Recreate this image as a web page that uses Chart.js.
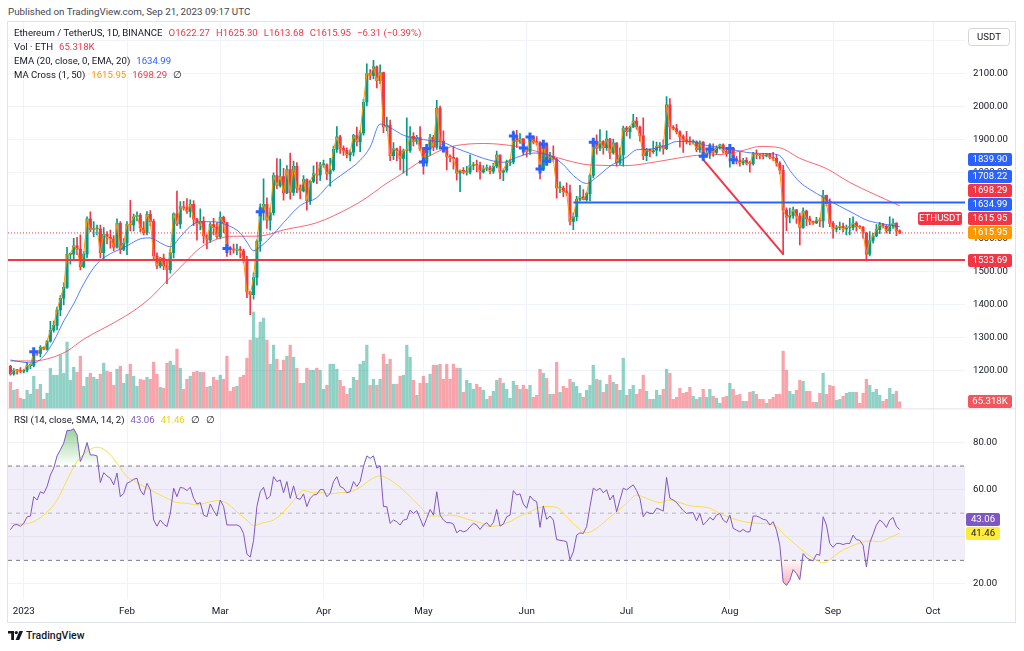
<!DOCTYPE html>
<html><head><meta charset="utf-8">
<script src="https://cdn.jsdelivr.net/npm/chart.js@4.4.0/dist/chart.umd.min.js"></script>
<style>
html,body{margin:0;padding:0;background:#fff;}
#wrap{position:relative;width:1024px;height:651px;overflow:hidden;font-family:Roboto,sans-serif;color:#131722;}
.t{position:absolute;white-space:nowrap;font-size:9.6px;line-height:14px;}
.t span{margin-left:6px;}
#frame{position:absolute;left:7px;top:21px;width:1007px;height:600px;border:1px solid #e0e3eb;}
canvas{position:absolute;left:8px;top:22px;}
</style></head>
<body><div id="wrap">
<div class="t" style="left:8px;top:5px;color:#434651;font-size:9.8px">Published on TradingView.com, Sep 21, 2023 09:17 UTC</div>
<div id="frame"></div>
<canvas id="c" width="1007" height="602"></canvas>
<div class="t" style="left:14px;top:26px">Ethereum / TetherUS, 1D, BINANCE<span style="color:#f23645">O1622.27</span><span style="color:#f23645">H1625.30</span><span style="color:#f23645">L1613.68</span><span style="color:#f23645">C1615.95</span><span style="color:#f23645">−6.31 (−0.39%)</span></div>
<div class="t" style="left:14px;top:40px">Vol · ETH<span style="color:#f23645">65.318K</span></div>
<div class="t" style="left:14px;top:54px">EMA (20, close, 0, EMA, 20)<span style="color:#2962ff">1634.99</span></div>
<div class="t" style="left:14px;top:68px">MA Cross (1, 50)<span style="color:#ff9800">1615.95</span><span style="color:#f23645">1698.29</span><span>∅</span></div>
<div class="t" style="left:14px;top:413px">RSI (14, close, SMA, 14, 2)<span style="color:#7e57c2">43.06</span><span style="color:#e8d21d">41.46</span><span>∅</span><span>∅</span></div>
<div class="t" style="left:8px;top:629px;font-size:10.5px;font-weight:500"><svg width="15" height="9" viewBox="0 0 15 9" style="vertical-align:-1px;margin-right:3px"><path d="M0 0h6v9H3.2V2.6H0z" fill="#131722"/><circle cx="8.3" cy="1.6" r="1.6" fill="#131722"/><path d="M11.4 0H15l-3.8 9H7.6z" fill="#131722"/></svg>TradingView</div>
</div>
<script>
// ---------------- DATA ----------------
const firstDay = -4; // first candle = Dec 28, 2022 (days counted from Jan 1, 2023)
const monthTickDays = [0,31,59,90,120,151,181,212,243,273];
const monthTickLabels = ['2023','Feb','Mar','Apr','May','Jun','Jul','Aug','Sep','Oct'];
const priceTicks = [1200,1300,1400,1500,1600,1700,1800,1900,2000,2100,2200];
const rsiTicks = [20,40,60,80];

const opens = [
1212,1189,1200,1199,1196,1200,1214,1214,1256,1251,
1269,1264,1288,1321,1336,1383,1418,1451,1551,1552,
1577,1567,1514,1552,1659,1627,1628,1628,1556,1612,
1603,1598,1573,1645,1566,1585,1642,1640,1665,1669,
1631,1617,1672,1651,1546,1516,1540,1516,1505,1556,
1674,1643,1695,1692,1681,1703,1658,1643,1651,1607,
1595,1641,1633,1605,1663,1647,1569,1566,1564,1566,
1562,1533,1437,1429,1481,1591,1680,1703,1655,1677,
1790,1760,1787,1737,1808,1739,1818,1751,1743,1778,
1714,1772,1795,1791,1822,1822,1795,1808,1869,1907,
1872,1866,1852,1861,1911,1892,1919,2012,2099,2093,
2119,2077,2102,1937,1942,1850,1871,1865,1842,1865,
1866,1909,1893,1906,1870,1831,1872,1906,1876,1994,
1894,1873,1848,1845,1841,1797,1806,1800,1800,1820,
1823,1821,1801,1810,1813,1803,1818,1852,1800,1806,
1829,1831,1910,1893,1901,1873,1863,1907,1892,1890,
1810,1885,1833,1848,1839,1752,1752,1741,1737,1651,
1665,1718,1725,1717,1735,1790,1891,1873,1893,1874,
1900,1859,1888,1828,1852,1934,1923,1937,1955,1937,
1910,1850,1869,1862,1867,1878,1880,1871,2004,1937,
1932,1922,1908,1898,1893,1891,1892,1868,1891,1848,
1858,1870,1860,1873,1883,1864,1856,1872,1838,1835,
1828,1836,1827,1826,1856,1853,1850,1849,1855,1845,
1842,1827,1806,1685,1664,1669,1686,1667,1633,1682,
1659,1651,1646,1655,1652,1730,1705,1645,1628,1633,
1636,1628,1632,1633,1646,1635,1634,1616,1552,1593,
1607,1626,1641,1636,1622,1638,1645,1622.27];
const highs = [
1215,1205,1202,1208,1203,1223,1218,1265,1258,1275,
1271,1290,1348,1349,1391,1426,1465,1572,1556,1600,
1603,1610,1560,1665,1680,1650,1640,1640,1632,1620,
1625,1608,1659,1650,1599,1650,1715,1673,1680,1675,
1650,1681,1684,1658,1556,1542,1552,1529,1568,1677,
1743,1711,1712,1720,1716,1714,1661,1689,1665,1611,
1647,1660,1647,1680,1667,1647,1575,1582,1582,1575,
1567,1545,1439,1495,1595,1704,1780,1722,1692,1798,
1841,1840,1812,1820,1858,1834,1829,1762,1790,1780,
1775,1819,1831,1830,1837,1825,1842,1879,1938,1912,
1880,1874,1868,1915,1937,1926,2021,2128,2111,2139,
2122,2125,2103,1967,1958,1890,1873,1879,1870,1965,
1938,1920,1912,1938,1872,1880,1915,1912,2018,2000,
1925,1874,1853,1877,1844,1807,1814,1818,1853,1830,
1837,1831,1820,1822,1819,1827,1864,1853,1810,1837,
1838,1925,1927,1917,1902,1876,1909,1910,1908,1893,
1892,1889,1860,1880,1842,1771,1758,1768,1761,1677,
1727,1760,1747,1740,1794,1900,1913,1929,1896,1925,
1903,1900,1890,1874,1940,1939,1940,1975,1966,1940,
1965,1872,1870,1894,1891,1890,1898,2029,2023,1941,
1945,1925,1913,1924,1907,1898,1895,1895,1893,1868,
1887,1886,1880,1885,1886,1872,1875,1874,1848,1860,
1842,1844,1833,1860,1868,1855,1857,1857,1857,1860,
1853,1832,1821,1692,1691,1694,1687,1676,1692,1685,
1667,1652,1663,1662,1745,1731,1719,1651,1639,1649,
1646,1640,1660,1665,1650,1638,1635,1618,1620,1615,
1641,1648,1645,1640,1665,1659,1647,1625.30];
const lows = [
1185,1185,1188,1192,1192,1195,1205,1210,1245,1240,
1262,1261,1285,1315,1322,1365,1398,1448,1521,1534,
1550,1504,1510,1540,1620,1605,1610,1540,1535,1583,
1570,1562,1570,1553,1562,1550,1622,1622,1652,1620,
1610,1610,1637,1535,1508,1510,1505,1462,1494,1540,
1638,1630,1685,1675,1664,1638,1594,1625,1585,1568,
1587,1610,1599,1598,1617,1545,1550,1555,1550,1540,
1525,1420,1368,1415,1458,1560,1655,1630,1624,1670,
1750,1755,1715,1735,1718,1730,1738,1720,1740,1685,
1702,1768,1765,1775,1815,1777,1758,1803,1860,1857,
1851,1843,1834,1849,1880,1862,1912,2001,2080,2083,
2055,2068,1920,1926,1835,1838,1835,1807,1797,1790,
1860,1880,1885,1865,1794,1818,1851,1865,1869,1872,
1871,1807,1831,1809,1776,1741,1795,1791,1795,1808,
1801,1779,1797,1805,1795,1796,1813,1780,1774,1800,
1820,1825,1875,1887,1852,1846,1854,1886,1882,1780,
1805,1822,1829,1832,1721,1738,1726,1730,1640,1626,
1652,1712,1716,1712,1713,1783,1855,1865,1855,1866,
1841,1855,1818,1823,1818,1910,1902,1935,1930,1894,
1838,1835,1846,1857,1849,1864,1855,1868,1900,1928,
1916,1876,1860,1886,1883,1885,1862,1860,1838,1845,
1842,1848,1853,1870,1858,1848,1815,1832,1825,1818,
1822,1823,1800,1821,1841,1840,1840,1846,1840,1836,
1818,1795,1550,1623,1646,1660,1645,1580,1630,1637,
1641,1642,1644,1635,1633,1698,1635,1600,1620,1626,
1620,1610,1610,1625,1621,1630,1600,1531,1546,1585,
1605,1614,1631,1616,1614,1630,1608,1613.68];
const closes = [
1189,1200,1199,1196,1200,1214,1214,1256,1251,1269,
1264,1288,1321,1336,1383,1418,1451,1551,1552,1577,
1567,1514,1552,1659,1627,1628,1628,1556,1612,1603,
1598,1573,1645,1566,1585,1642,1640,1665,1669,1631,
1617,1672,1651,1546,1516,1540,1516,1505,1556,1674,
1643,1695,1692,1681,1703,1658,1643,1651,1607,1595,
1641,1633,1605,1663,1647,1569,1566,1564,1566,1562,
1533,1437,1429,1481,1591,1680,1703,1655,1677,1790,
1760,1787,1737,1808,1739,1818,1751,1743,1778,1714,
1772,1795,1791,1822,1822,1795,1808,1869,1907,1872,
1866,1852,1861,1911,1892,1919,2012,2099,2093,2119,
2077,2102,1937,1942,1850,1871,1865,1842,1865,1866,
1909,1893,1906,1870,1831,1872,1906,1876,1994,1894,
1873,1848,1845,1841,1797,1806,1800,1800,1820,1823,
1821,1801,1810,1813,1803,1818,1852,1800,1806,1829,
1831,1910,1893,1901,1873,1863,1907,1892,1890,1810,
1885,1833,1848,1839,1752,1752,1741,1737,1651,1665,
1718,1725,1717,1735,1790,1891,1873,1893,1874,1900,
1859,1888,1828,1852,1934,1923,1937,1955,1937,1910,
1850,1869,1862,1867,1878,1880,1871,2004,1937,1932,
1922,1908,1898,1893,1891,1892,1868,1891,1848,1858,
1870,1860,1873,1883,1864,1856,1872,1838,1835,1828,
1836,1827,1826,1856,1853,1850,1849,1855,1845,1842,
1827,1806,1685,1664,1669,1686,1667,1633,1682,1659,
1651,1646,1655,1652,1730,1705,1645,1628,1633,1636,
1628,1632,1633,1646,1635,1634,1616,1552,1593,1607,
1626,1641,1636,1622,1638,1645,1622,1615.95];
// volume in thousands of ETH
const volumes = [
260,180,190,100,90,180,140,320,190,240,
90,150,400,330,330,530,350,660,280,410,
360,520,220,310,350,310,290,340,450,370,
360,230,390,420,250,340,440,320,220,290,
280,310,290,460,340,210,200,450,470,430,
590,400,190,290,320,360,370,360,360,210,
220,310,280,330,290,520,170,210,220,310,
330,500,680,960,700,860,900,680,440,630,
490,380,480,520,630,510,400,250,250,400,
380,380,400,380,190,230,440,440,390,280,
220,140,200,310,280,440,470,630,230,290,
230,290,540,440,490,240,240,320,330,630,
510,280,130,250,320,250,340,430,430,440,
290,440,290,440,400,400,160,280,250,190,
240,210,180,90,120,170,280,300,250,190,
100,270,230,190,230,190,230,110,130,390,
350,300,140,140,460,160,220,200,290,260,
220,150,110,180,230,430,290,280,160,240,
330,260,240,180,500,130,190,230,140,190,
330,170,90,90,180,130,190,390,350,90,
110,200,150,160,210,120,90,110,190,110,
190,120,100,50,110,120,250,190,130,140,
70,70,160,170,140,90,90,50,90,110,
140,140,570,380,170,140,180,280,270,170,
170,60,60,150,350,140,230,220,80,90,
120,150,160,160,160,50,150,290,230,160,
190,130,70,90,200,140,170,65.318];

const emaDays = [-4,0,3,6,9,12,15,18,22,26,30,35,38,41,44,47,50,53,57,61,65,67,69,71,74,78,83,88,92,96,101,104,107,110,114,118,122,126,130,134,138,144,148,153,158,162,165,169,172,176,181,184,188,193,196,200,205,211,217,221,224,227,230,233,236,240,245,249,253,257,260,263];
const emaVals = [1231,1224,1222,1243,1288,1349,1401,1462,1523,1553,1571,1598,1601,1586,1574,1604,1636,1650,1650,1640,1616,1588,1562,1574,1602,1647,1699,1723,1766,1796,1836,1876,1946,1935,1912,1902,1896,1890,1872,1857,1842,1830,1845,1858,1850,1823,1790,1766,1785,1818,1846,1868,1870,1882,1893,1893,1881,1872,1860,1857,1856,1850,1806,1770,1748,1724,1697,1676,1655,1645,1640,1634.99];
const maDays = [-4,3,8,13,18,23,28,33,38,43,48,53,58,63,68,72,78,88,98,103,108,113,118,122,126,130,138,146,153,158,163,170,181,189,196,202,210,216,221,227,233,241,248,255,263];
const maVals = [1228,1228,1237,1258,1294,1322,1349,1380,1419,1471,1522,1571,1597,1606,1606,1608,1625,1647,1693,1723,1760,1792,1826,1850,1870,1881,1887,1881,1866,1851,1836,1822,1820,1830,1842,1851,1854,1866,1878,1874,1842,1811,1769,1735,1698.29];

const rsiVals = [
43,45,45.2,44.5,45.7,48.5,48.8,57,55.6,59.1,
58.4,61.3,66.2,69.1,74.3,76.9,79.7,85.1,85.1,85.8,
83.2,71.9,75.2,80,74.7,74.7,74.3,63,67.2,65.8,
64.8,62,67,57,58.4,62.7,63.4,64.4,64.8,59.8,
57.7,62.7,60,47.1,44.5,47.1,45.4,44.3,49.9,60.6,
57,61,60.6,59.6,61,56.3,53.9,54.5,49.2,48.5,
53.9,51.1,48.8,55.6,52.8,45,45,45,45,44.3,
41.4,32.6,31.4,38.5,52.8,59.1,61,55.9,57.3,65.5,
63.4,64.1,58.7,63.4,56.3,61.6,56.3,55.9,58.2,52.8,
56.3,57.7,58,60,60,57,58.4,63.4,65.5,61.3,
60.6,58.7,59.1,63.4,61.3,63.4,69.8,74.3,73.3,74.3,
69.1,70.1,52.8,52.8,45.7,47.1,46.4,45,47.1,47.4,
51.3,49.9,51.1,47.8,44.3,47.8,51.6,49.2,59.1,49.2,
47.1,46,46,45.4,41.7,42.8,42.1,42.6,44.3,45.7,
45,43.1,45,46,44.3,46,51.6,44.5,45.4,48.5,
49.2,59.6,57.7,58.2,53.9,52.1,57.3,55.6,54.9,44,
53.1,47.4,48.8,47.1,38.8,38.5,38.3,37.9,30.3,33.6,
40.7,41.7,41.4,44.3,52.8,60.6,59.6,60.6,58.7,59.9,
55.6,57.7,50.6,55.6,60.6,59.9,61,62,59.6,56.3,
48.5,50.6,49.9,49.9,52.1,51.6,50.9,65.2,56.3,55.6,
54.5,52.8,51.1,49.9,50.2,50.2,46.8,49.9,45,46.4,
48.2,47.1,49.2,49.9,47.1,46,49.2,43.6,42.8,42.1,
43.1,42.1,42.1,48.8,48.8,48.2,47.4,47.1,45,46.4,
42.8,36.4,20.8,19.4,21.5,26.1,24.4,21.8,32.9,31.2,
30.3,29.8,32.6,32.2,48.5,45,37.2,35.5,37.2,37.2,
36.7,37.2,37.2,40.7,38.8,38.5,36.4,27.2,37.4,41.1,
45,47.1,46,44,47.1,48.2,44.5,43.06];
const rsiMaDays = [-4,0,6,10,13,16,19,22,25,28,31,34,37,40,43,46,49,52,55,58,61,64,67,69,72,75,78,81,84,87,90,92,95,98,101,104,107,110,113,116,119,122,125,128,131,134,137,140,143,146,149,152,155,158,160,163,166,169,172,175,178,181,184,187,191,194,197,200,203,206,209,212,215,218,221,224,226,229,232,235,238,240,242,245,248,251,254,257,260,263];
const rsiMaVals = [45.7,45.4,49.2,55.6,64.1,71.9,76.2,78,76.2,71.2,65.5,63,60.6,58.4,56.3,54.5,54.2,53.5,54.5,55.3,54.2,50.6,47.1,44.8,46,47.1,50.6,55.3,59.6,58.7,58.7,58.2,58.7,59.1,61,64.1,65.8,64.1,61,57,52.8,48.8,48.8,49.2,48.5,47.1,46,44.3,45,46.4,48.8,50.6,52.5,52.8,52.5,48.5,44.3,41.7,43.6,47.1,50.6,54.2,57.7,56.3,54.5,55.6,54.5,53.1,52.8,52.1,49.9,48.2,46.8,46,45.7,45.4,44.3,40,36.4,32.9,30.1,28.9,30.3,33.6,35.7,37.4,38.3,37.9,39.7,41.46];

const crossDays = [3,61,71,120,121,126,147,150,152,155,156,157,171,204,206,212,213];
const crossVals = [1256,1569,1680,1831,1872,1873,1910,1873,1907,1810,1885,1833,1891,1848,1870,1872,1838];

const supportLevel = 1533.69;
const resistanceLevel = 1708.22;
const resistanceStartDay = 165;
const trendDays = [204,228];
const trendVals = [1838,1552];
const lastPrice = 1615.95;
const rsiUpper = 70, rsiMid = 50, rsiLower = 30;
const priceBadges = [
  {v:1839.90, bg:'#2962ff'},
  {v:1708.22, bg:'#2962ff'},
  {v:1698.29, bg:'#f23645'},
  {v:1634.99, bg:'#2962ff'},
  {v:1615.95, bg:'#f23645', tag:'ETHUSDT'},
  {v:1615.95, bg:'#ff9800'},
  {v:1533.69, bg:'#f23645'}
];
const rsiBadges = [{v:43.06, bg:'#7e57c2', fg:'#fff'},{v:41.46, bg:'#ffeb3b', fg:'#131722'}];

// ---------------- VIEW ----------------
const X_MIN = -4.73, X_MAX = 282.6;
const P_MIN = 1084.5, P_MAX = 2255.1;
const R_MIN = 13.62, R_MAX = 94.47;
const V_MIN = -1900, V_MAX = 3850;
const GREEN = '#089981', RED = '#f23645';
const FONT = 'Roboto';

const dayOf = i => firstDay + i;
const up = closes.map((c,i)=>c>=opens[i]);
const candleColors = up.map(u=>u?GREEN:RED);
const volColors = up.map(u=>u?'rgba(8,153,129,0.45)':'rgba(242,54,69,0.45)');

const canvas = document.getElementById('c');
const ctx0 = canvas.getContext('2d');
const rsiPix = v => 385 + (R_MAX - v)/(R_MAX - R_MIN)*190;
const gGreen = ctx0.createLinearGradient(0, rsiPix(90), 0, rsiPix(70));
gGreen.addColorStop(0,'rgba(76,175,80,0.75)'); gGreen.addColorStop(1,'rgba(76,175,80,0.02)');
const gRed = ctx0.createLinearGradient(0, rsiPix(30), 0, rsiPix(12));
gRed.addColorStop(0,'rgba(242,54,69,0.02)'); gRed.addColorStop(1,'rgba(242,54,69,0.6)');

const rsiPts = rsiVals.map((v,i)=>({x:dayOf(i),y:v}));
const line = (data, color, axis, extra) => Object.assign({type:'line', data, borderColor:color, borderWidth:1, pointRadius:0, yAxisID:axis, fill:false, tension:0}, extra||{});

function roundRect(ctx,x,y,w,h,r){ctx.beginPath();ctx.moveTo(x+r,y);ctx.lineTo(x+w-r,y);ctx.quadraticCurveTo(x+w,y,x+w,y+r);ctx.lineTo(x+w,y+h-r);ctx.quadraticCurveTo(x+w,y+h,x+w-r,y+h);ctx.lineTo(x+r,y+h);ctx.quadraticCurveTo(x,y+h,x,y+h-r);ctx.lineTo(x,y+r);ctx.quadraticCurveTo(x,y,x+r,y);ctx.closePath();}
function badge(ctx,x,yc,text,bg,fg,w){
  ctx.font='9.6px '+FONT;
  const tw=ctx.measureText(text).width, ww=w||Math.round(tw+9), h=13;
  ctx.fillStyle=bg; roundRect(ctx,x,Math.round(yc-h/2),ww,h,2); ctx.fill();
  ctx.fillStyle=fg||'#fff'; ctx.textBaseline='middle'; ctx.textAlign='center';
  ctx.fillText(text,x+ww/2,Math.round(yc-h/2)+h/2+0.5);
  return ww;
}
function stackDraw(ctx, list, scale, x, w, gap){
  const items = list.map((b,i)=>({...b,i,ny:scale.getPixelForValue(b.v)}));
  items.sort((p,q)=> q.ny-p.ny || q.i-p.i);
  let prev=Infinity;
  for(const it of items){
    const yy=Math.min(it.ny, prev-gap); prev=yy;
    badge(ctx,x,yy,it.v.toFixed(2),it.bg,it.fg||'#fff',w);
    if(it.tag) badge(ctx,x-50,yy,it.tag,it.bg,'#fff',44);
  }
}

const overlay = {
  id:'overlay',
  afterDraw(chart){
    const ctx=chart.ctx, ys=chart.scales.y, yr=chart.scales.yR, yv=chart.scales.yV, a=chart.chartArea;
    ctx.save();
    ctx.strokeStyle='#e0e3eb'; ctx.lineWidth=1;
    ctx.beginPath(); ctx.moveTo(0,ys.bottom+0.5); ctx.lineTo(chart.width,ys.bottom+0.5); ctx.stroke();
    stackDraw(ctx, priceBadges, ys, a.right+3, 44, 14);
    const lastVol=volumes[volumes.length-1];
    badge(ctx,a.right+3,Math.min(yv.getPixelForValue(lastVol),ys.bottom-7),lastVol.toFixed(3)+'K','#f0585e','#fff',44);
    stackDraw(ctx, rsiBadges, yr, a.right+1, 34, 14);
    ctx.strokeStyle='#d1d4dc'; ctx.fillStyle='#fff'; roundRect(ctx,a.right+3.5,6.5,41,17,3); ctx.fill(); ctx.stroke();
    ctx.fillStyle='#131722'; ctx.font='9.6px '+FONT; ctx.textAlign='center'; ctx.textBaseline='middle';
    ctx.fillText('USDT',a.right+24,15.5);
    ctx.restore();
  }
};

Chart.defaults.font.family = FONT;
Chart.defaults.font.size = 9.6;
Chart.defaults.color = '#131722';

new Chart(canvas,{
  type:'bar',
  data:{datasets:[
    line([{x:X_MIN,y:rsiUpper},{x:X_MAX,y:rsiUpper}],'#787b86','yR',{borderDash:[4,4],fill:{target:{value:rsiLower}},backgroundColor:'rgba(126,87,194,0.1)',order:20}),
    line([{x:X_MIN,y:rsiMid},{x:X_MAX,y:rsiMid}],'rgba(120,123,134,0.5)','yR',{borderDash:[4,4],order:19}),
    line([{x:X_MIN,y:rsiLower},{x:X_MAX,y:rsiLower}],'#787b86','yR',{borderDash:[4,4],order:19}),
    line(rsiPts,'rgba(0,0,0,0)','yR',{borderWidth:0,fill:{target:{value:rsiUpper},above:gGreen,below:'rgba(0,0,0,0)'},order:18}),
    line(rsiPts,'rgba(0,0,0,0)','yR',{borderWidth:0,fill:{target:{value:rsiLower},above:'rgba(0,0,0,0)',below:gRed},order:18}),
    line(rsiMaDays.map((d,i)=>({x:d,y:rsiMaVals[i]})),'#f5e04a','yR',{cubicInterpolationMode:'monotone',order:3}),
    line(rsiPts,'#7e57c2','yR',{order:2}),
    {type:'bar', data:volumes.map((v,i)=>({x:dayOf(i),y:v})), yAxisID:'yV', backgroundColor:volColors, barThickness:2.6, grouped:false, order:30},
    {type:'bar', data:lows.map((l,i)=>({x:dayOf(i),y:[l,highs[i]]})), yAxisID:'y', backgroundColor:candleColors, barThickness:1, grouped:false, order:9},
    {type:'bar', data:opens.map((o,i)=>({x:dayOf(i),y:[o,closes[i]]})), yAxisID:'y', backgroundColor:candleColors, barThickness:2.4, minBarLength:1, grouped:false, order:8},
    line(closes.map((c,i)=>({x:dayOf(i),y:c})),'#ff9800','y',{order:7}),
    line(maDays.map((d,i)=>({x:d,y:maVals[i]})),'rgba(242,54,69,0.75)','y',{cubicInterpolationMode:'monotone',order:6}),
    line(emaDays.map((d,i)=>({x:d,y:emaVals[i]})),'rgba(41,98,255,0.8)','y',{cubicInterpolationMode:'monotone',order:5}),
    line([{x:X_MIN,y:lastPrice},{x:X_MAX,y:lastPrice}],RED,'y',{borderDash:[1,2],order:4}),
    line([{x:X_MIN,y:supportLevel},{x:X_MAX,y:supportLevel}],RED,'y',{borderWidth:2,order:3}),
    line([{x:resistanceStartDay,y:resistanceLevel},{x:X_MAX,y:resistanceLevel}],'#2962ff','y',{borderWidth:2,order:3}),
    line(trendDays.map((d,i)=>({x:d,y:trendVals[i]})),RED,'y',{borderWidth:2,order:3}),
    line(crossDays.map((d,i)=>({x:d,y:crossVals[i]})),'#2962ff','y',{showLine:false,pointRadius:4.5,pointStyle:'cross',pointBorderWidth:3,pointBorderColor:'#2962ff',order:1})
  ]},
  options:{
    responsive:false, animation:false, devicePixelRatio:1, events:[],
    layout:{padding:0, autoPadding:false},
    plugins:{legend:{display:false},tooltip:{enabled:false}},
    scales:{
      x:{type:'linear',position:'bottom',min:X_MIN,max:X_MAX,offset:false,
        grid:{color:'#f0f3fa',drawTicks:false,offset:false}, border:{display:false},
        ticks:{padding:7,color:'#131722',maxRotation:0,autoSkip:false,font:{size:9.8},
          callback:v=>{const k=monthTickDays.indexOf(v);return k<0?'':monthTickLabels[k];}},
        afterBuildTicks:s=>{s.ticks=monthTickDays.map(v=>({value:v}));},
        afterFit:s=>{s.height=25;s.paddingLeft=0;s.paddingRight=0;}},
      y:{type:'linear',position:'right',stack:'pane',stackWeight:385,min:P_MIN,max:P_MAX,
        grid:{color:'#f0f3fa',drawTicks:false}, border:{display:false},
        ticks:{padding:8,color:'#131722',callback:v=>v.toFixed(2)},
        afterBuildTicks:s=>{s.ticks=priceTicks.map(v=>({value:v}));},
        afterFit:s=>{s.width=50;s.paddingTop=0;s.paddingBottom=0;}},
      yR:{type:'linear',position:'right',stack:'pane',stackWeight:190,min:R_MIN,max:R_MAX,
        grid:{color:'#f0f3fa',drawTicks:false}, border:{display:false},
        ticks:{padding:8,color:'#131722',callback:v=>v.toFixed(2)},
        afterBuildTicks:s=>{s.ticks=rsiTicks.map(v=>({value:v}));},
        afterFit:s=>{s.width=50;s.paddingTop=0;s.paddingBottom=0;}},
      yV:{type:'linear',position:'left',display:false,min:V_MIN,max:V_MAX,
        afterFit:s=>{s.width=0;s.paddingTop=0;s.paddingBottom=0;}}
    }
  },
  plugins:[overlay]
});
</script>
</body></html>
